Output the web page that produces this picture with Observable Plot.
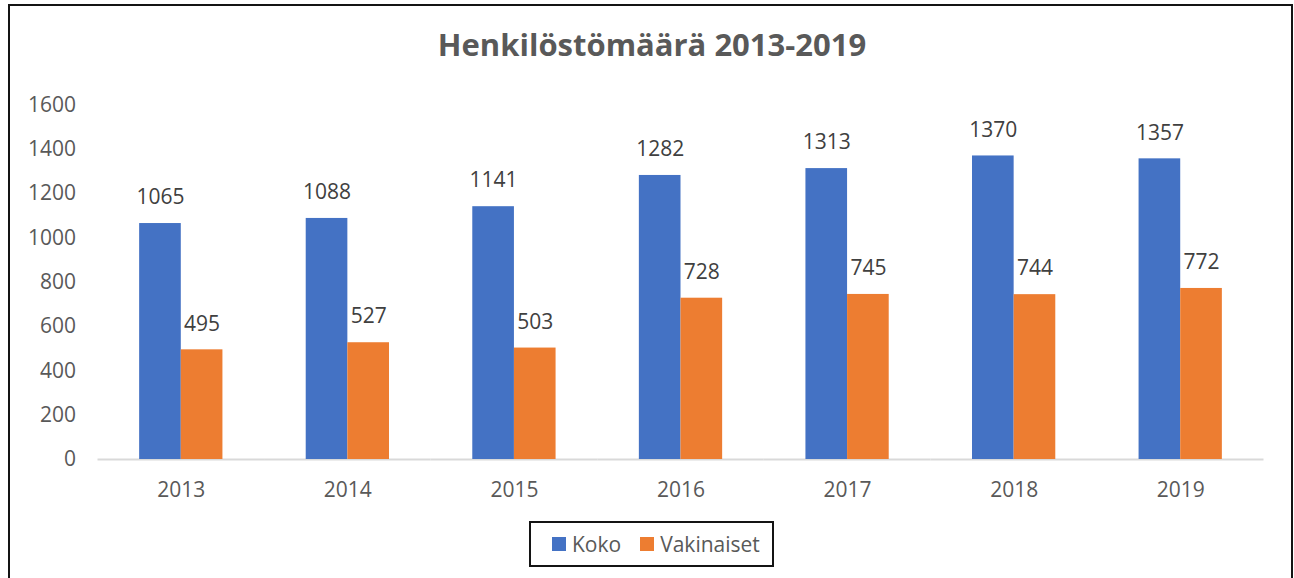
<!DOCTYPE html>
<html>
<head>
<meta charset="utf-8">
<script src="https://cdn.jsdelivr.net/npm/d3@7"></script>
<script src="https://cdn.jsdelivr.net/npm/@observablehq/plot@0.6"></script>
<style>
  html, body { margin: 0; padding: 0; background: #fff; overflow: hidden; }
  #wrap { position: relative; width: 1294px; height: 578px; overflow: hidden; font-family: "Open Sans", sans-serif; }
  #frame { position: absolute; left: 8px; top: 4px; width: 1285px; height: 620px; border: 2px solid #141414; box-sizing: border-box; }
  #title { position: absolute; left: 0; top: 23px; width: 1304px; text-align: center; font-size: 31px; line-height: 42px; font-weight: 700; color: #595959; }
  #chart { position: absolute; left: 0; top: 0; }
  #legend { position: absolute; left: 529px; top: 521px; width: 245px; height: 46px; border: 2px solid #141414; box-sizing: border-box; display: flex; align-items: center; padding-left: 21px; font-size: 21px; color: #595959; }
  .sw { display: inline-block; width: 14px; height: 14px; margin-right: 6px; }
  .item { display: flex; align-items: center; margin-right: 19px; }
</style>
</head>
<body>
<div id="wrap">
  <div id="chart"></div>
  <div id="frame"></div>
  <div id="title">Henkilöstömäärä 2013-2019</div>
  <div id="legend"></div>
</div>
<script>
const years = ["2013", "2014", "2015", "2016", "2017", "2018", "2019"];
const koko = [1065, 1088, 1141, 1282, 1313, 1370, 1357];
const vakinaiset = [495, 527, 503, 728, 745, 744, 772];
const seriesNames = ["Koko", "Vakinaiset"];
const seriesColors = ["#4472C4", "#ED7D31"];
const yTicks = [0, 200, 400, 600, 800, 1000, 1200, 1400, 1600];

const data = years.flatMap((yr, i) => [
  {year: yr, series: seriesNames[0], value: koko[i]},
  {year: yr, series: seriesNames[1], value: vakinaiset[i]}
]);

const chart = Plot.plot({
  width: 1294,
  height: 500,
  marginLeft: 97.5,
  marginRight: 30.5,
  marginTop: 104.5,
  marginBottom: 41,
  style: {fontFamily: "Open Sans", fontSize: "21px", color: "#595959", background: "transparent", overflow: "visible"},
  fx: {domain: years, padding: 0, round: false, label: null},
  x: {domain: seriesNames, paddingInner: 0, paddingOuter: 1, round: false, axis: null},
  y: {domain: [0, 1600], label: null},
  color: {domain: seriesNames, range: seriesColors},
  marks: [
    Plot.axisY(yTicks, {tickSize: 0, tickPadding: 22, label: null, tickFormat: d => String(d)}),
    Plot.axisFx({anchor: "bottom", tickSize: 0, tickPadding: 23, label: null}),
    Plot.ruleY([0], {stroke: "#d9d9d9", strokeWidth: 2}),
    Plot.barY(data, {fx: "year", x: "series", y: "value", fill: "series"}),
    Plot.text(data, {fx: "year", x: "series", y: "value", text: d => String(d.value), dy: -26, fill: "#404040", fontSize: 21})
  ]
});
document.getElementById("chart").appendChild(chart);

const legend = document.getElementById("legend");
seriesNames.forEach((name, i) => {
  const item = document.createElement("div");
  item.className = "item";
  const sw = document.createElement("span");
  sw.className = "sw";
  sw.style.background = seriesColors[i];
  item.appendChild(sw);
  item.appendChild(document.createTextNode(name));
  legend.appendChild(item);
});
</script>
</body>
</html>
